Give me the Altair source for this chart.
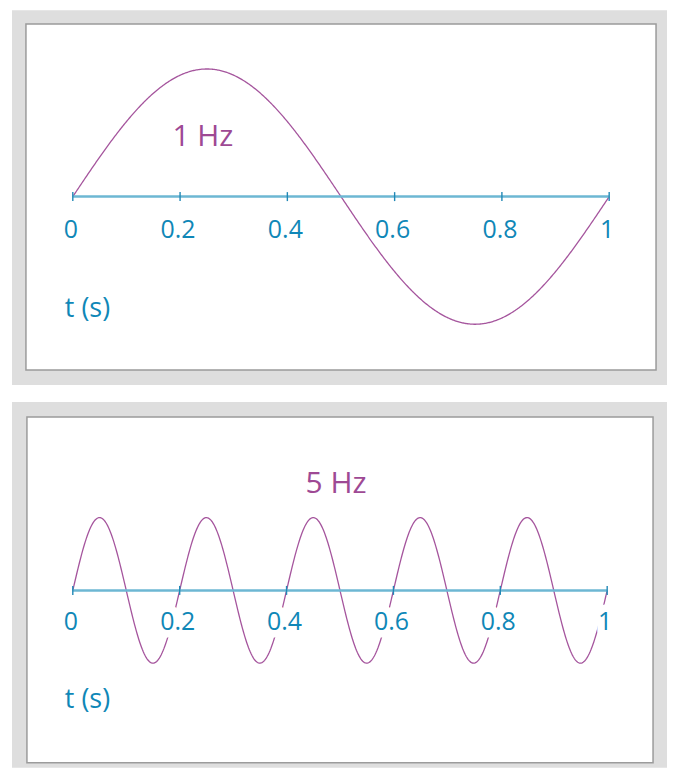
import altair as alt
import numpy as np
import pandas as pd

# ---------------- data ----------------
FREQS = [1, 5]                      # Hz, one panel each
FREQ_LABELS = ["1 Hz", "5 Hz"]
AMPLITUDE = [1.0, 1.0]
TICK_VALUES = [0, 0.2, 0.4, 0.6, 0.8, 1]
TICK_LABELS = ["0", "0.2", "0.4", "0.6", "0.8", "1"]
AXIS_TITLE = "t (s)"
T_START, T_END, N_SAMPLES = 0.0, 1.0, 600

# ---------------- style ----------------
FONT = "Open Sans"
CURVE_COLOR = "#a5559d"
PURPLE_TEXT = "#9e4994"
BLUE_TEXT = "#0f87b7"
AXIS_COLOR = "#6db7d3"
TICK_COLOR = "#2188b6"
BAND_GREY = "#dedede"
BOX_STROKE = "#9b9b9b"

# per-panel layout (pixels / data-space annotation anchors)
PANELS = [
    dict(W=538, H=347, ydom=[-1.359, 1.3516], label_xy=(0.2426, 0.4766),
         title_xy=(-0.0149, -0.867), tick_y=-0.25,
         band=(-61, 58, -14, 15), box=(-47, 47)),
    dict(W=536, H=347, ydom=[-2.3699, 2.3836], label_xy=(0.4925, 1.486),
         title_xy=(-0.0149, -1.479), tick_y=-0.411,
         band=(-61, 60, -15, 5), box=(-46, 46)),
]


def panel(i):
    p = PANELS[i]
    W, H = p["W"], p["H"]
    xs = alt.Scale(domain=[0, 1], nice=False, zero=False)
    ys = alt.Scale(domain=p["ydom"], nice=False, zero=False)

    t = np.linspace(T_START, T_END, N_SAMPLES)
    curve = pd.DataFrame({"t": t, "v": AMPLITUDE[i] * np.sin(2 * np.pi * FREQS[i] * t)})
    one = pd.DataFrame({"a": [0]})
    ticks = pd.DataFrame({"x": TICK_VALUES, "lab": TICK_LABELS,
                          "y": [p["tick_y"]] * len(TICK_VALUES),
                          "zero": [0.0] * len(TICK_VALUES)})
    axis_df = pd.DataFrame({"x0": [TICK_VALUES[0]], "x1": [TICK_VALUES[-1]], "zero": [0.0]})
    ann = pd.DataFrame({"x": [p["label_xy"][0]], "y": [p["label_xy"][1]],
                        "txt": [FREQ_LABELS[i]]})
    ttl = pd.DataFrame({"x": [p["title_xy"][0]], "y": [p["title_xy"][1]],
                        "txt": [AXIS_TITLE]})

    bl, br, bt, bb = p["band"]
    band = alt.Chart(one).mark_rect(fill=BAND_GREY).encode(
        x=alt.value(bl), x2=alt.value(W + br), y=alt.value(bt), y2=alt.value(H + bb))
    xl, xr = p["box"]
    box = alt.Chart(one).mark_rect(fill="white", stroke=BOX_STROKE, strokeWidth=1.5).encode(
        x=alt.value(xl), x2=alt.value(W + xr), y=alt.value(0), y2=alt.value(H))

    line = alt.Chart(curve).mark_line(color=CURVE_COLOR, strokeWidth=1.3).encode(
        x=alt.X("t:Q", scale=xs, axis=None),
        y=alt.Y("v:Q", scale=ys, axis=None))

    halo = alt.Chart(ticks).mark_text(
        font=FONT, fontSize=25, align="center", baseline="middle", dy=1.5, dx=-2,
        fill="white", stroke="white", strokeWidth=15, strokeJoin="round").encode(
        x=alt.X("x:Q", scale=xs, axis=None), y=alt.Y("y:Q", scale=ys, axis=None),
        text="lab:N")

    axis_line = alt.Chart(axis_df).mark_rule(color=AXIS_COLOR, strokeWidth=2.5).encode(
        x=alt.X("x0:Q", scale=xs, axis=None), x2="x1:Q",
        y=alt.Y("zero:Q", scale=ys, axis=None))

    tick_marks = alt.Chart(ticks).mark_tick(
        orient="vertical", size=9, thickness=1.4, color=TICK_COLOR, opacity=1).encode(
        x=alt.X("x:Q", scale=xs, axis=None), y=alt.Y("zero:Q", scale=ys, axis=None))

    tick_text = alt.Chart(ticks).mark_text(
        font=FONT, fontSize=25, align="center", baseline="middle", dy=1.5, dx=-2,
        color=BLUE_TEXT).encode(
        x=alt.X("x:Q", scale=xs, axis=None), y=alt.Y("y:Q", scale=ys, axis=None),
        text="lab:N")

    freq_text = alt.Chart(ann).mark_text(
        font=FONT, fontSize=30, align="center", baseline="middle", dy=1.5,
        color=PURPLE_TEXT).encode(
        x=alt.X("x:Q", scale=xs, axis=None), y=alt.Y("y:Q", scale=ys, axis=None),
        text="txt:N")

    title_text = alt.Chart(ttl).mark_text(
        font=FONT, fontSize=27, align="left", baseline="middle", dy=1.5,
        color=BLUE_TEXT).encode(
        x=alt.X("x:Q", scale=xs, axis=None), y=alt.Y("y:Q", scale=ys, axis=None),
        text="txt:N")

    return alt.layer(band, box, line, halo, axis_line, tick_marks, tick_text,
                     freq_text, title_text).properties(width=W, height=H)


chart = alt.vconcat(panel(0), panel(1), spacing=15).properties(
    padding={"left": 3, "top": 0, "right": 0, "bottom": 0},
    background="white",
).configure_view(stroke="transparent")

chart.save("out.html", embed_options={"renderer": "svg", "actions": False})
